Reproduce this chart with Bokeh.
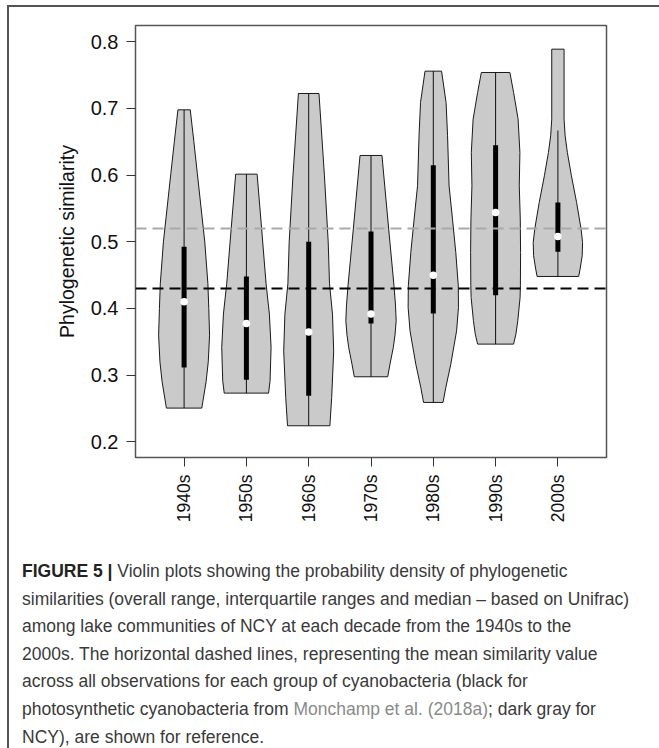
import math
from bokeh.plotting import figure
from bokeh.models import FixedTicker, Range1d, Div, Span
from bokeh.layouts import column
from bokeh.embed import file_html
from bokeh.resources import INLINE

# ---------------- data ----------------
decades = ["1940s", "1950s", "1960s", "1970s", "1980s", "1990s", "2000s"]

# violin outlines: similarity levels and density half-widths (category units)
levels_1940s = [0.698, 0.65, 0.602, 0.5, 0.437, 0.40, 0.36, 0.32, 0.29, 0.2505]
width_1940s = [0.099, 0.157, 0.213, 0.332, 0.382, 0.396, 0.409, 0.388, 0.353, 0.284]
levels_1950s = [0.6015, 0.52, 0.437, 0.3915, 0.3415, 0.2915, 0.273]
width_1950s = [0.172, 0.244, 0.316, 0.369, 0.396, 0.380, 0.356]
levels_1960s = [0.7225, 0.6, 0.5, 0.437, 0.3915, 0.336, 0.2665, 0.224]
width_1960s = [0.165, 0.252, 0.313, 0.334, 0.382, 0.401, 0.369, 0.340]
levels_1970s = [0.6295, 0.519, 0.434, 0.405, 0.3815, 0.36, 0.3415, 0.3165, 0.2975]
width_1970s = [0.176, 0.284, 0.369, 0.393, 0.404, 0.385, 0.358, 0.305, 0.268]
levels_1980s = [0.756, 0.709, 0.659, 0.584, 0.534, 0.484, 0.434, 0.4015, 0.3665, 0.3165, 0.2815, 0.259]
width_1980s = [0.133, 0.205, 0.229, 0.253, 0.308, 0.361, 0.401, 0.404, 0.374, 0.281, 0.201, 0.156]
levels_1990s = [0.754, 0.724, 0.684, 0.634, 0.584, 0.534, 0.484, 0.434, 0.4165, 0.3815, 0.3615, 0.3465]
width_1990s = [0.229, 0.289, 0.361, 0.390, 0.380, 0.396, 0.401, 0.398, 0.393, 0.356, 0.326, 0.289]
levels_2000s = [0.789, 0.684, 0.659, 0.634, 0.599, 0.559, 0.519, 0.499, 0.479, 0.459, 0.448]
width_2000s = [0.099, 0.099, 0.116, 0.152, 0.217, 0.300, 0.372, 0.396, 0.390, 0.356, 0.334]

whisker_low = [0.2505, 0.273, 0.224, 0.2975, 0.259, 0.3465, 0.448]
whisker_high = [0.698, 0.6015, 0.7225, 0.6295, 0.756, 0.754, 0.667]
q1 = [0.3115, 0.293, 0.269, 0.3775, 0.3925, 0.42, 0.485]
q3 = [0.4925, 0.448, 0.50, 0.5155, 0.615, 0.645, 0.559]
medians = [0.41, 0.3775, 0.3645, 0.3915, 0.45, 0.544, 0.508]

mean_photosynthetic = 0.43   # black dashed line
mean_ncy = 0.52              # dark gray dashed line

y_ticks = [0.2, 0.3, 0.4, 0.5, 0.6, 0.7, 0.8]

violin_levels = [levels_1940s, levels_1950s, levels_1960s, levels_1970s,
                 levels_1980s, levels_1990s, levels_2000s]
violin_widths = [width_1940s, width_1950s, width_1960s, width_1970s,
                 width_1980s, width_1990s, width_2000s]

# ---------------- figure ----------------
FONT = "Liberation Sans"
n = len(decades)
pos = list(range(1, n + 1))

p = figure(width=650, height=522, output_backend="svg", toolbar_location=None,
           x_range=Range1d(1 - 0.5 - 0.04 * n, n + 0.5 + 0.04 * n),
           y_range=Range1d(0.1764, 0.8245),
           min_border_left=126, min_border_right=53, min_border_top=18,
           min_border_bottom=72)
p.background_fill_color = "white"
p.border_fill_color = "white"
p.grid.visible = False
p.outline_line_color = "#555555"
p.outline_line_width = 1.5

# violins
xs, ys = [], []
for c, lv, wd in zip(pos, violin_levels, violin_widths):
    left = [c - w for w in wd]
    right = [c + w for w in reversed(wd)]
    xs.append(left + right)
    ys.append(list(lv) + list(reversed(lv)))
p.patches(xs, ys, fill_color="#cacaca", line_color="#1a1a1a", line_width=1)

# reference dashed lines
p.add_layout(Span(location=mean_ncy, dimension="width", line_color="#a9a9a9",
                  line_width=2, line_dash="11 6"))
p.add_layout(Span(location=mean_photosynthetic, dimension="width", line_color="#000000",
                  line_width=2, line_dash="11 6"))

# whiskers, IQR bars, medians
p.segment(pos, whisker_low, pos, whisker_high, line_color="#111111", line_width=1)
p.segment(pos, q1, pos, q3, line_color="#000000", line_width=5, line_cap="butt")
p.scatter(pos, medians, size=7.5, fill_color="white", line_color=None)

# axes
p.yaxis.ticker = FixedTicker(ticks=y_ticks)
p.xaxis.ticker = FixedTicker(ticks=pos)
p.xaxis.major_label_overrides = {c: d for c, d in zip(pos, decades)}
p.xaxis.major_label_orientation = math.pi / 2
for ax in (p.xaxis, p.yaxis):
    ax.axis_line_color = None
    ax.major_tick_in = 0
    ax.major_tick_out = 9
    ax.major_tick_line_color = "#333333"
    ax.major_tick_line_width = 1
    ax.minor_tick_line_color = None
    ax.major_label_text_font = FONT
    ax.major_label_text_color = "#111111"
    ax.major_label_standoff = 8
p.yaxis.major_label_text_font_size = "20px"
p.xaxis.major_label_text_font_size = "17.5px"
p.yaxis.axis_label = "Phylogenetic similarity"
p.yaxis.axis_label_text_font = FONT
p.yaxis.axis_label_text_font_size = "19.5px"
p.yaxis.axis_label_text_font_style = "normal"
p.yaxis.axis_label_text_color = "#111111"
p.yaxis.axis_label_standoff = 10

caption = (
    '<div style="height:218px; overflow:hidden; box-sizing:border-box; padding:24px 0 0 8px;'
    ' font-family:\'Liberation Sans\', Arial, sans-serif; font-size:17.5px;'
    ' line-height:27.6px; color:#3a3a3a; white-space:nowrap;">'
    '<b style="color:#222">FIGURE 5 |</b> Violin plots showing the probability density of phylogenetic<br>'
    'similarities (overall range, interquartile ranges and median \u2013 based on Unifrac)<br>'
    'among lake communities of NCY at each decade from the 1940s to the<br>'
    '2000s. The horizontal dashed lines, representing the mean similarity value<br>'
    'across all observations for each group of cyanobacteria (black for<br>'
    'photosynthetic cyanobacteria from <span style="color:#8a8a8a">Monchamp et al. (2018a)</span>; dark gray for<br>'
    'NCY), are shown for reference.'
    '</div>'
)
div = Div(text=caption, width=650, height=218)

layout = column(p, div, spacing=0,
                styles={"margin-left": "7px", "margin-top": "5px",
                        "border-left": "2px solid #555555", "border-top": "2px solid #555555"})

open("out.html", "w").write(file_html(layout, INLINE))
